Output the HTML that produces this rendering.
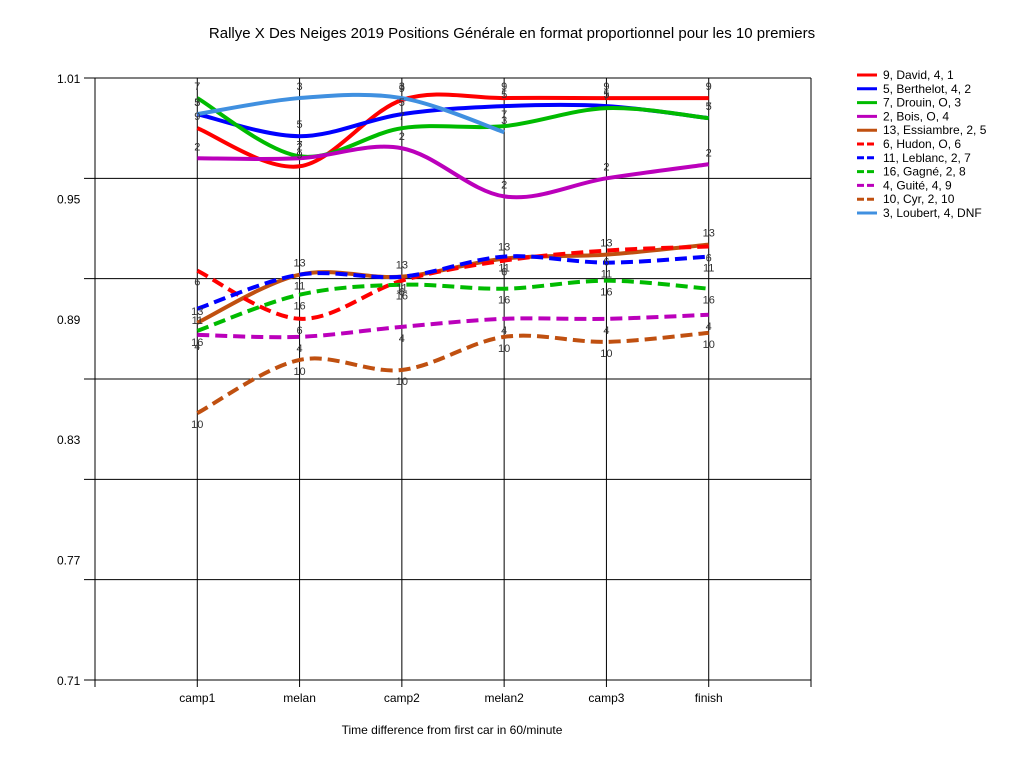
<!DOCTYPE html>
<html><head><meta charset="utf-8"><style>
body{margin:0;background:#fff;font-family:"Liberation Sans",sans-serif}
svg text{font-family:"Liberation Sans",sans-serif}
</style></head><body>
<svg id="chart" width="1024" height="768" viewBox="0 0 1024 768" xmlns="http://www.w3.org/2000/svg">
<rect width="1024" height="768" fill="#fff"/>
<text x="512" y="38" text-anchor="middle" font-size="15">Rallye X Des Neiges 2019  Positions Générale en format proportionnel pour les 10 premiers</text>
<text x="452" y="734" text-anchor="middle" font-size="12">Time difference from first car in 60/minute</text>
<g id="grid"></g><g id="series"></g><g id="labels"></g><g id="legend"></g>
</svg>
<script>
const categories=["camp1","melan","camp2","melan2","camp3","finish"];
const yTicks=[1.01,0.95,0.89,0.83,0.77,0.71];
const gridValues=[1.01,0.96,0.91,0.86,0.81,0.76,0.71];
const seriesNames=["9, David, 4, 1","5, Berthelot, 4, 2","7, Drouin, O, 3","2, Bois, O, 4","13, Essiambre, 2, 5","6, Hudon, O, 6","11, Leblanc, 2, 7","16, Gagné, 2, 8","4, Guité, 4, 9","10, Cyr, 2, 10","3, Loubert, 4, DNF"];
const carNumbers=["9","5","7","2","13","6","11","16","4","10","3"];
const sDavid=[0.985,0.966,0.999,1.000,1.000,1.000];
const sBerthelot=[0.992,0.981,0.992,0.996,0.996,0.990];
const sDrouin=[1.000,0.971,0.985,0.986,0.995,0.990];
const sBois=[0.970,0.970,0.975,0.951,0.960,0.967];
const sEssiambre=[0.888,0.912,0.911,0.920,0.922,0.927];
const sHudon=[0.914,0.890,0.909,0.919,0.924,0.926];
const sLeblanc=[0.895,0.912,0.911,0.921,0.918,0.921];
const sGagne=[0.884,0.902,0.907,0.905,0.909,0.905];
const sGuite=[0.882,0.881,0.886,0.890,0.890,0.892];
const sCyr=[0.843,0.8695,0.8645,0.881,0.8785,0.883];
const sLoubert=[0.992,1.000,1.000,0.983,null,null];
const seriesValues=[sDavid,sBerthelot,sDrouin,sBois,sEssiambre,sHudon,sLeblanc,sGagne,sGuite,sCyr,sLoubert];
const colors=["#ff0000","#0000ff","#00bb00","#bb00bb","#c05010","#ff0000","#0000ff","#00bb00","#bb00bb","#c05010","#4090e0"];
const dashed=[false,false,false,false,false,true,true,true,true,true,false];

const NS="http://www.w3.org/2000/svg";
const X0=95,X1=811,Y0=78,Y1=680,VMAX=1.01,VMIN=0.71;
const xs=i=>X0+(i+1)*(X1-X0)/(categories.length+1);
const ys=v=>Y0+(VMAX-v)/(VMAX-VMIN)*(Y1-Y0);
function mk(tag,attrs,parent){const e=document.createElementNS(NS,tag);for(const k in attrs)e.setAttribute(k,attrs[k]);parent.appendChild(e);return e;}
const grid=document.getElementById('grid'),ser=document.getElementById('series'),lab=document.getElementById('labels'),leg=document.getElementById('legend');
gridValues.forEach(v=>{const l=mk('line',{x1:84,x2:X1,y1:ys(v),y2:ys(v),stroke:'#000','stroke-width':1},grid);

});
yTicks.forEach(v=>{const t=mk('text',{x:57,y:ys(v)+5,'font-size':12},grid);t.textContent=v.toFixed(2);

});
[X0,X1].forEach(x=>{const l=mk('line',{x1:x,x2:x,y1:Y0,y2:Y1+7,stroke:'#000'},grid);

});
categories.forEach((c,i)=>{const l=mk('line',{x1:xs(i),x2:xs(i),y1:Y0,y2:Y1+7,stroke:'#000'},grid);


const t=mk('text',{x:xs(i),y:Y1+22,'text-anchor':'middle','font-size':12},grid);t.textContent=c;

});
function pathFor(vals){const p=[];vals.forEach((v,i)=>{if(v!==null)p.push([xs(i),ys(v)]);});
let d=`M${p[0][0]},${p[0][1]}`;
for(let i=0;i<p.length-1;i++){const a=p[i-1]||p[i],b=p[i],c=p[i+1],e=p[i+2]||c;
d+=` C${b[0]+(c[0]-a[0])/6},${b[1]+(c[1]-a[1])/6} ${c[0]-(e[0]-b[0])/6},${c[1]-(e[1]-b[1])/6} ${c[0]},${c[1]}`;}
return d;}
seriesValues.forEach((vals,s)=>{const p=mk('path',{d:pathFor(vals),fill:'none',stroke:colors[s],'stroke-width':4,'stroke-dasharray':dashed[s]?'12,6':'none'},ser);


vals.forEach((v,i)=>{if(v===null)return;const off=dashed[s]?15:-8;
const t=mk('text',{x:xs(i),y:ys(v)+off,'text-anchor':'middle','font-size':11,fill:'#333'},lab);t.textContent=carNumbers[s];

});
const ly=75+s*13.8;
const g=mk('g',{},leg);


mk('line',{x1:857,x2:877,y1:ly,y2:ly,stroke:colors[s],'stroke-width':3,'stroke-dasharray':dashed[s]?'7,3':'none'},g);
const t=mk('text',{x:883,y:ly+4,'font-size':12},g);t.textContent=seriesNames[s];});
</script>
</body></html>
